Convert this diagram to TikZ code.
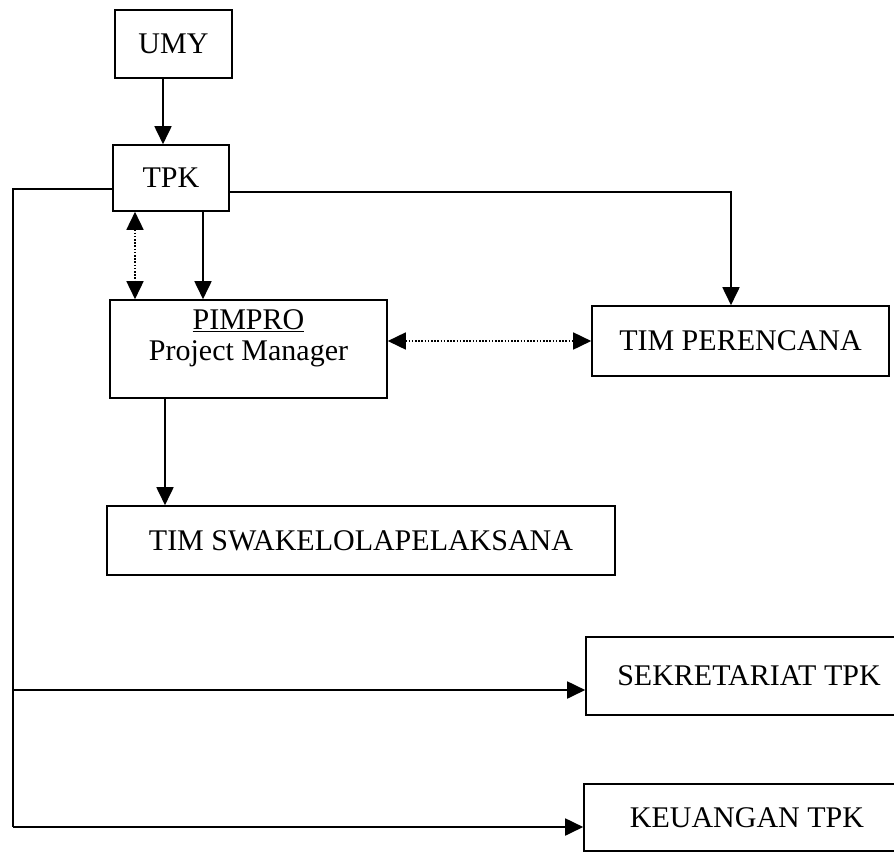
\documentclass[tikz,border=0pt]{standalone}
\usepackage{fontspec}
\setmainfont{Liberation Serif}
\usetikzlibrary{arrows.meta}
\begin{document}
\begin{tikzpicture}[x=1pt,y=-1pt,
  box/.style={draw,line width=1.6pt,inner sep=0pt,font=\fontsize{30}{31}\selectfont},
  conn/.style={line width=1.8pt},
  arr/.style={conn,-{Triangle[width=17pt,length=18pt]}},
  darr/.style={line width=1.6pt,dash pattern=on 1.6pt off 1.6pt,
    {Triangle[width=17pt,length=18pt]}-{Triangle[width=17pt,length=18pt]}}]
\useasboundingbox (0,0) rectangle (894,852);
\clip (0,0) rectangle (894,852);

% boxes
\node[box,minimum width=117pt,minimum height=68pt] (umy) at (173.5,44) {UMY};
\node[box,minimum width=116pt,minimum height=66pt] (tpk) at (171,178) {TPK};
\node[box,minimum width=277pt,minimum height=98pt] (pim) at (248.5,349)
  {\raisebox{10pt}[\height][\depth]{\begin{tabular}{@{}c@{}}\underline{PIMPRO}\\Project Manager\end{tabular}}};
\node[box,minimum width=297pt,minimum height=70pt] (perenc) at (740.5,341) {TIM PERENCANA};
\node[box,minimum width=508pt,minimum height=69pt] (swa) at (361,540.5) {TIM SWAKELOLAPELAKSANA};
\node[box,minimum width=326pt,minimum height=78pt] (sek) at (749,676) {SEKRETARIAT TPK};
\node[box,minimum width=326pt,minimum height=67pt] (keu) at (747,817.5) {KEUANGAN TPK};

% bends of the outer lines
\coordinate (lt) at (13,189);
\coordinate (lm) at (13,690);
\coordinate (lb) at (13,827);
\coordinate (rt) at (731,192);

% connectors
\draw[arr] ([xshift=-10.5pt]umy.south) -- ([xshift=-10.5pt]umy.south |- tpk.north);
\draw[conn] (tpk.west |- lt) -- (lt) -- (lb);
\draw[arr] (lb) -- (keu.west |- lb);
\draw[arr] (lm) -- (sek.west |- lm);
\draw[arr] (tpk.east |- rt) -- (rt) -- (rt |- perenc.north);
\draw[darr] ([xshift=-36pt]tpk.south) -- ([xshift=-36pt]tpk.south |- pim.north);
\draw[arr] ([xshift=32pt]tpk.south) -- ([xshift=32pt]tpk.south |- pim.north);
\draw[darr] ([yshift=8pt]pim.east) -- ([yshift=8pt]pim.east -| perenc.west);
\draw[arr] ([xshift=-83.5pt]pim.south) -- ([xshift=-83.5pt]pim.south |- swa.north);
\end{tikzpicture}
\end{document}
